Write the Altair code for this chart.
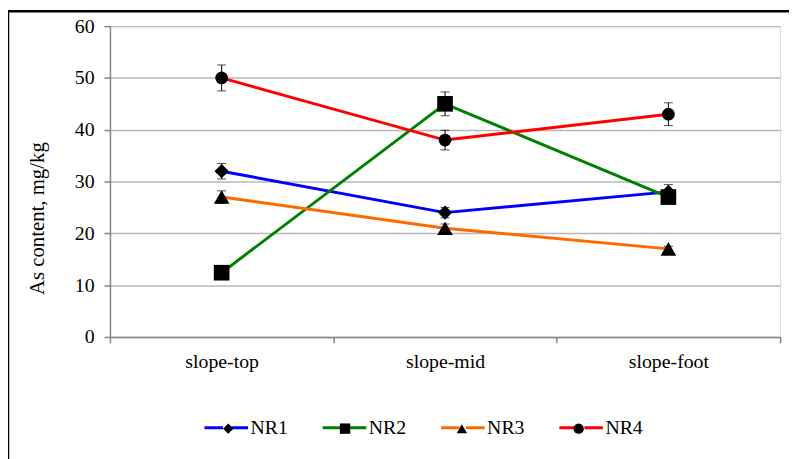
import altair as alt
import pandas as pd

categories = ["slope-top", "slope-mid", "slope-foot"]
series_names = ["NR1", "NR2", "NR3", "NR4"]
series_colors = ["#0000FF", "#008000", "#FF6A00", "#FF0000"]
marker_shapes = ["diamond", "square", "triangle-up", "circle"]
marker_sizes = [210, 250, 250, 165]

nr1 = [32.0, 24.0, 28.0]
nr2 = [12.4, 45.0, 27.0]
nr3 = [27.0, 21.0, 17.0]
nr4 = [50.0, 38.0, 43.0]
nr1_err = [1.5, 1.0, 1.4]
nr2_err = [0.8, 2.3, 1.2]
nr3_err = [1.2, 0.8, 0.5]
nr4_err = [2.5, 1.9, 2.2]

y_ticks = [0, 10, 20, 30, 40, 50, 60]

rows = []
for name, vals, errs in zip(series_names, [nr1, nr2, nr3, nr4], [nr1_err, nr2_err, nr3_err, nr4_err]):
    for c, v, e in zip(categories, vals, errs):
        rows.append({"site": c, "series": name, "marker": name, "value": v, "lo": v - e, "hi": v + e})
df = pd.DataFrame(rows)

FONT = "Liberation Serif"

x_scale = alt.Scale(type="band", paddingInner=0, paddingOuter=0)
y_scale = alt.Scale(domain=[0, 60], nice=False)

x_axis = alt.Axis(title=None, tickBand="extent", labelAngle=0, labelFont=FONT,
                  labelFontSize=20, labelColor="black", labelPadding=9,
                  domainColor="#868686", domainWidth=1.5, tickColor="#868686",
                  tickWidth=1.5, tickSize=6, grid=False)
y_axis = alt.Axis(values=y_ticks, title="As content,  mg/kg", titleFont=FONT,
                  titleFontSize=21, titleFontWeight="normal", titleColor="black",
                  titleAngle=270, titleX=-73, titleY=194, titleAlign="center",
                  titleBaseline="middle",
                  labelFont=FONT, labelFontSize=20, labelColor="black",
                  labelPadding=10, domainColor="#868686", domainWidth=1.5,
                  tickColor="#868686", tickWidth=1.5, tickSize=6,
                  grid=True, gridColor="#B8B8B8", gridWidth=1.5)


def xe():
    return alt.X("site:N", sort=categories, scale=x_scale, axis=x_axis)


def ye(field):
    return alt.Y(field + ":Q", scale=y_scale, axis=y_axis)


base = alt.Chart(df)

lines = base.mark_line(strokeWidth=3).encode(
    x=xe(),
    y=ye("value"),
    color=alt.Color("series:N", scale=alt.Scale(domain=series_names, range=series_colors),
                    legend=alt.Legend(orient="none", legendX=94, legendY=382,
                                      direction="horizontal", columns=4, title=None,
                                      symbolType="M-1,0H-0.15M0.15,0H1", symbolSize=1936,
                                      symbolStrokeWidth=3, symbolFillColor="transparent",
                                      labelFont=FONT, labelFontSize=20, labelColor="black",
                                      labelOffset=1, columnPadding=28.5, padding=0)),
)

err_rules = base.mark_rule(color="black", strokeWidth=1).encode(
    x=xe(), y=ye("lo"), y2="hi:Q")
err_low = base.mark_tick(color="black", thickness=1, size=9).encode(x=xe(), y=ye("lo"))
err_high = base.mark_tick(color="black", thickness=1, size=9).encode(x=xe(), y=ye("hi"))

shape_legend = alt.Legend(orient="none", legendX=114, legendY=401,
                          direction="horizontal", columns=4, title=None,
                          symbolSize=110, symbolFillColor="black",
                          symbolStrokeColor="black", symbolStrokeWidth=0,
                          labelExpr="''", labelOffset=0,
                          columnPadding=107, padding=0)

point_layers = []
for name, sz in zip(series_names, marker_sizes):
    point_layers.append(
        base.transform_filter(alt.datum.series == name)
        .mark_point(filled=True, color="black", opacity=1, size=sz)
        .encode(
            x=xe(),
            y=ye("value"),
            shape=alt.Shape("marker:N", scale=alt.Scale(range=marker_shapes),
                            legend=shape_legend),
        )
    )

frame = alt.Chart(pd.DataFrame({"k": [0]})).mark_rect(
    filled=False, stroke="black", strokeWidth=2.5
).encode(
    x=alt.value(-103), x2=alt.value(900), y=alt.value(-15), y2=alt.value(700)
)

chart = alt.layer(lines, err_rules, err_low, err_high, *point_layers, frame).properties(
    width=677, height=314,
    autosize=alt.AutoSizeParams(type="none"),
    padding={"left": 103, "top": 16, "right": 9, "bottom": 121},
).configure_view(stroke="#868686", strokeWidth=1.5).configure(background="white")

chart.save("out.html", embed_options={"renderer": "svg", "actions": False})
